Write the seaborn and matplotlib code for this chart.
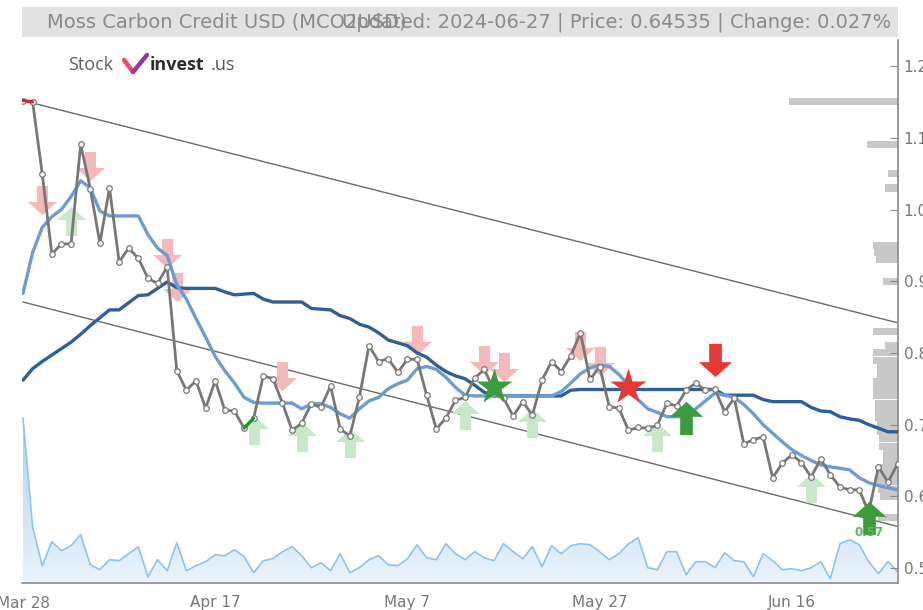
import numpy as np
import pandas as pd
import matplotlib
matplotlib.use("Agg")
import matplotlib.pyplot as plt
import matplotlib.dates as mdates
from matplotlib.path import Path
from matplotlib.lines import Line2D
from matplotlib.patches import Rectangle
from matplotlib.colors import LinearSegmentedColormap
import seaborn as sns

sns.set_style("white")
plt.rcParams['font.family'] = ['Liberation Sans Narrow', 'DejaVu Sans']

# ---- data ----
start_date = "2024-03-28"
price = [1.152, 1.150, 1.050, 0.938, 0.952, 0.952, 1.091, 1.029, 0.953, 1.030,
         0.927, 0.946, 0.932, 0.904, 0.897, 0.920, 0.775, 0.748, 0.761, 0.723,
         0.761, 0.720, 0.719, 0.695, 0.709, 0.768, 0.764, 0.730, 0.692, 0.702,
         0.729, 0.724, 0.754, 0.694, 0.684, 0.738, 0.810, 0.788, 0.792, 0.773,
         0.791, 0.791, 0.741, 0.694, 0.709, 0.734, 0.738, 0.765, 0.777, 0.748,
         0.737, 0.712, 0.732, 0.713, 0.762, 0.788, 0.774, 0.796, 0.828, 0.763,
         0.781, 0.725, 0.723, 0.692, 0.696, 0.695, 0.699, 0.730, 0.726, 0.748,
         0.758, 0.748, 0.749, 0.718, 0.737, 0.673, 0.679, 0.683, 0.626, 0.646,
         0.658, 0.647, 0.627, 0.652, 0.630, 0.613, 0.609, 0.609, 0.578, 0.641,
         0.620, 0.645]
ma_short = [0.883, 0.940, 0.975, 0.990, 1.000, 1.018, 1.040, 1.030, 0.998, 0.991,
            0.991, 0.991, 0.991, 0.965, 0.946, 0.936, 0.895, 0.875, 0.848, 0.822,
            0.795, 0.775, 0.758, 0.738, 0.731, 0.730, 0.730, 0.730, 0.730, 0.722,
            0.729, 0.729, 0.724, 0.715, 0.709, 0.722, 0.733, 0.738, 0.750, 0.757,
            0.762, 0.778, 0.781, 0.777, 0.766, 0.752, 0.741, 0.740, 0.740, 0.740,
            0.740, 0.740, 0.740, 0.740, 0.740, 0.740, 0.746, 0.758, 0.771, 0.779,
            0.783, 0.781, 0.770, 0.755, 0.735, 0.722, 0.717, 0.711, 0.711, 0.711,
            0.722, 0.733, 0.744, 0.741, 0.738, 0.728, 0.715, 0.700, 0.688, 0.676,
            0.665, 0.657, 0.650, 0.644, 0.641, 0.639, 0.637, 0.626, 0.619, 0.615,
            0.612, 0.609]
ma_long = [0.762, 0.778, 0.788, 0.797, 0.806, 0.815, 0.826, 0.838, 0.849, 0.860,
           0.860, 0.870, 0.880, 0.881, 0.890, 0.899, 0.891, 0.890, 0.890, 0.890,
           0.890, 0.885, 0.881, 0.882, 0.883, 0.875, 0.871, 0.871, 0.871, 0.871,
           0.862, 0.861, 0.860, 0.852, 0.848, 0.840, 0.836, 0.828, 0.818, 0.814,
           0.810, 0.800, 0.794, 0.783, 0.774, 0.768, 0.764, 0.755, 0.745, 0.740,
           0.740, 0.740, 0.740, 0.740, 0.740, 0.740, 0.740, 0.748, 0.749, 0.749,
           0.749, 0.749, 0.749, 0.749, 0.749, 0.749, 0.749, 0.749, 0.749, 0.749,
           0.749, 0.749, 0.749, 0.741, 0.741, 0.741, 0.741, 0.735, 0.732, 0.732,
           0.732, 0.732, 0.724, 0.719, 0.718, 0.711, 0.708, 0.706, 0.700, 0.695,
           0.690, 0.690]
volume = [164, 55, 16, 40, 31, 36, 47, 17, 12, 22,
          21, 28, 35, 5, 22, 11, 39, 11, 16, 20,
          27, 26, 32, 25, 9, 21, 23, 30, 35, 26,
          14, 19, 11, 28, 9, 14, 22, 26, 17, 16,
          23, 37, 24, 22, 38, 28, 22, 30, 24, 21,
          38, 30, 23, 35, 15, 36, 28, 36, 38, 37,
          30, 22, 28, 38, 44, 14, 12, 30, 30, 7,
          20, 20, 14, 29, 21, 20, 5, 28, 21, 12,
          13, 11, 14, 20, 3, 38, 42, 37, 20, 8,
          20, 10]

# trend channel (start value, end value)
upper_channel = [1.152, 0.842]
lower_channel = [0.871, 0.558]

# volume-by-price profile
profile_levels = [1.15, 1.09, 1.05, 1.03, 0.95, 0.94, 0.93, 0.90, 0.83, 0.81,
                  0.80, 0.79, 0.78, 0.77, 0.76, 0.75, 0.74, 0.73, 0.72, 0.71,
                  0.70, 0.69, 0.68, 0.67, 0.66, 0.65, 0.64, 0.63, 0.62, 0.61,
                  0.60, 0.57]
profile_volume = [109, 31, 10, 13, 25, 24, 22, 15, 25, 13,
                  25, 25, 21, 21, 25, 25, 25, 23, 23, 23,
                  21, 21, 19, 19, 15, 15, 21, 21, 21, 20,
                  18, 20]

# signals: day index and price level
weak_sell_days = [2, 7, 15, 16, 27, 41, 48, 50, 58, 60]
weak_sell_vals = [1.013, 1.061, 0.939, 0.892, 0.768, 0.818, 0.790, 0.780, 0.810, 0.789]
weak_buy_days = [5, 24, 29, 34, 46, 53, 66, 82]
weak_buy_vals = [0.984, 0.692, 0.683, 0.674, 0.713, 0.702, 0.683, 0.612]
strong_buy_days = [69, 88]
strong_buy_vals = [0.709, 0.570]
strong_sell_days = [72]
strong_sell_vals = [0.790]
red_star_days = [63]
red_star_vals = [0.752]
green_star_days = [49]
green_star_vals = [0.752]
low_label = "0.57"

tick_days = [0, 20, 40, 60, 80]
tick_labels = ["Mar 28", "Apr 17", "May 7", "May 27", "Jun 16"]
y_ticks = [0.5, 0.6, 0.7, 0.8, 0.9, 1.0, 1.1, 1.2]

title_left = "Moss Carbon Credit USD (MCO2USD)"
title_right = "Updated: 2024-06-27 | Price: 0.64535 | Change: 0.027%"

dates = pd.date_range(start_date, periods=len(price), freq="D")
df = pd.DataFrame({"date": dates, "price": price, "ma_short": ma_short,
                   "ma_long": ma_long, "volume": volume})

# ---- figure layout ----
W, H = 923, 610
fig = plt.figure(figsize=(W / 100, H / 100), dpi=100)
rect = [22 / W, 27 / H, 876 / W, 543 / H]
ax_vol = fig.add_axes(rect, zorder=0)
ax_prof = fig.add_axes(rect, zorder=1)
ax = fig.add_axes(rect, zorder=2)
ax.patch.set_alpha(0)
ax_prof.patch.set_alpha(0)

x0 = dates[0] - pd.Timedelta(hours=2.5)
x1 = dates[-1] + pd.Timedelta(hours=1)
ylo, yhi = 0.4791, 1.2364

# volume area with gradient
ax_vol.set_xlim(x0, x1)
ax_vol.set_ylim(-1.3, 541.7)
poly = ax_vol.fill_between(df["date"], df["volume"], 0, facecolor="none", edgecolor="none")
cmap = LinearSegmentedColormap.from_list("vol", ["#eaf3fc", "#a8d0f1"])
grad = np.linspace(0, 1, 256).reshape(-1, 1)
img = ax_vol.imshow(grad, extent=[mdates.date2num(x0), mdates.date2num(x1), 0, 170],
                    origin="lower", aspect="auto", cmap=cmap, zorder=1)
img.set_clip_path(poly.get_paths()[0], transform=ax_vol.transData)
sns.lineplot(data=df, x="date", y="volume", ax=ax_vol, color="#8fc3ec", lw=1.2, zorder=2)
ax_vol.set_xlim(x0, x1)
ax_vol.set_ylim(-1.3, 541.7)
ax_vol.axis("off")

# volume profile on the right edge
ax_prof.barh(profile_levels, profile_volume, height=0.0098, color="#c8c8c8", lw=0)
ax_prof.set_xlim(876, 0)
ax_prof.set_ylim(ylo, yhi)
ax_prof.axis("off")

# trend channel
ax.plot([dates[0], dates[-1]], upper_channel, color="#6a6a6a", lw=1.0, zorder=2)
ax.plot([dates[0], dates[-1]], lower_channel, color="#6a6a6a", lw=1.0, zorder=2)

# arrow marker
arrow_up = Path([(0, 1), (1, 0.1), (0.38, 0.1), (0.38, -1), (-0.38, -1),
                 (-0.38, 0.1), (-1, 0.1), (0, 1)],
                [Path.MOVETO] + [Path.LINETO] * 6 + [Path.CLOSEPOLY])
arrow_down = Path([(x, -y) for x, y in arrow_up.vertices], arrow_up.codes)

def day(ds):
    return [dates[d] for d in ds]

ax.plot(day(weak_sell_days), weak_sell_vals, ls="none", marker=arrow_down, ms=21,
        color="#f6b9b9", mec="none", zorder=3)
ax.plot(day(weak_buy_days), weak_buy_vals, ls="none", marker=arrow_up, ms=21,
        color="#c9e7c9", mec="none", zorder=3)

# moving averages and price
sns.lineplot(data=df, x="date", y="ma_long", ax=ax, color="#2e5f98", lw=2.4, zorder=4)
sns.lineplot(data=df, x="date", y="ma_short", ax=ax, color="#6d9dd0", lw=2.4, zorder=4)
sns.lineplot(data=df, x="date", y="price", ax=ax, color="#777777", lw=2.0, zorder=5,
             marker="o", markersize=4, markerfacecolor="white",
             markeredgecolor="#777777", markeredgewidth=0.9)
ax.plot(day([0, 1]), price[0:2], color="#e02020", lw=2.2, zorder=5)
ax.plot(day([23, 24]), price[23:25], color="#1e9a1e", lw=2.2, zorder=5)

# strong signals
ax.plot(day(strong_buy_days), strong_buy_vals, ls="none", marker=arrow_up, ms=24,
        color="#3c9b3c", mec="none", zorder=6)
ax.plot(day(strong_sell_days), strong_sell_vals, ls="none", marker=arrow_down, ms=24,
        color="#e53935", mec="none", zorder=6)
ax.plot(day(red_star_days), red_star_vals, ls="none", marker="*", ms=27,
        color="#e53935", mec="none", zorder=6)
ax.plot(day(green_star_days), green_star_vals, ls="none", marker="*", ms=27,
        color="#3c9b3c", mec="none", zorder=6)
ax.text(dates[strong_buy_days[-1]], 0.549, low_label, color="#5cb85c", fontsize=8.5,
        fontweight="bold", ha="center", va="center", zorder=7)

# axes styling
ax.set_xlim(x0, x1)
ax.set_ylim(ylo, yhi)
ax.set_xlabel("")
ax.set_ylabel("")
for s in ["top", "left"]:
    ax.spines[s].set_visible(False)
for s in ["right", "bottom"]:
    ax.spines[s].set_color("#8a8a8a")
    ax.spines[s].set_linewidth(1.2)
ax.yaxis.tick_right()
ax.set_yticks(y_ticks)
ax.set_yticklabels([f"{v:.1f}" for v in y_ticks])
ax.tick_params(axis="y", direction="in", length=6, color="#8a8a8a",
               labelcolor="#777777", labelsize=11, pad=4)
ax.set_xticks(day(tick_days))
ax.set_xticklabels(tick_labels)
ax.tick_params(axis="x", direction="out", length=5, color="#8a8a8a",
               labelcolor="#777777", labelsize=11, pad=4)

# title bar
fig.patches.append(Rectangle((22 / W, 1 - 37 / H), 876 / W, 30 / H,
                             transform=fig.transFigure, facecolor="#e2e2e2",
                             edgecolor="none", zorder=0))
fig.text(47 / W, 1 - 22 / H, title_left, color="#8a8a8a", fontsize=14,
         ha="left", va="center")
fig.text(891 / W, 1 - 22 / H, title_right, color="#8a8a8a", fontsize=14,
         ha="right", va="center")

# logo
logo_font = ["Open Sans", "DejaVu Sans"]
fig.text(68 / W, 1 - 65 / H, "Stock", color="#606060", fontsize=13,
         family=logo_font, ha="left", va="center")
fig.add_artist(Line2D([124 / W, 133 / W], [1 - 60 / H, 1 - 72 / H],
                      transform=fig.transFigure, color="#ec4a6e", lw=3.2,
                      solid_capstyle="round"))
fig.add_artist(Line2D([133 / W, 147 / W], [1 - 72 / H, 1 - 55 / H],
                      transform=fig.transFigure, color="#8e3aa8", lw=3.2,
                      solid_capstyle="round"))
fig.text(150 / W, 1 - 65 / H, "invest", color="#2d2d2d", fontsize=13,
         fontweight="bold", family=logo_font, ha="left", va="center")
fig.text(211 / W, 1 - 65 / H, ".us", color="#555555", fontsize=13,
         family=logo_font, ha="left", va="center")

fig.savefig("out.png", dpi=100)
